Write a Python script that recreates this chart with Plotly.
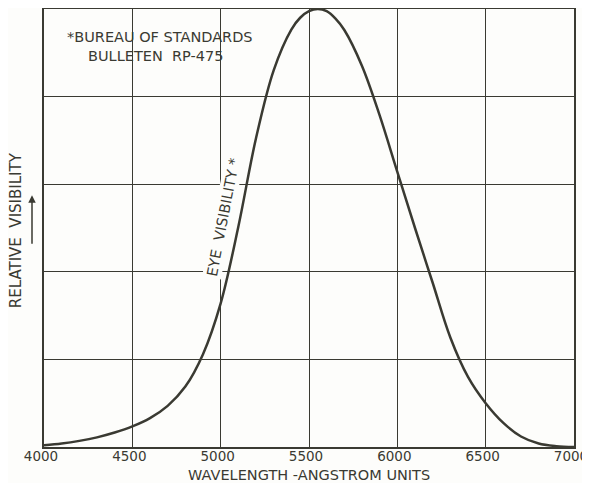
"""Relative eye visibility curve (Bureau of Standards RP-475)."""

import plotly.graph_objects as go

INK = "#3a3a32"
PAPER = "#fdfdfb"
FONT = "DejaVu Sans"

# wavelength in angstrom units, relative visibility
wavelength = [4000, 4100, 4200, 4300, 4400, 4500, 4600, 4700, 4800, 4900,
              5000, 5100, 5200, 5300, 5400, 5450, 5500, 5550, 5600, 5650,
              5700, 5800, 5900, 6000, 6100, 6200, 6300, 6400, 6500, 6600,
              6700, 6800, 6900, 7000]
visibility = [0.004, 0.008, 0.014, 0.022, 0.033, 0.047, 0.066, 0.094, 0.138, 0.212,
              0.328, 0.503, 0.705, 0.860, 0.953, 0.980, 0.995, 1.000, 0.995, 0.978,
              0.952, 0.870, 0.757, 0.628, 0.500, 0.375, 0.250, 0.160, 0.100, 0.055,
              0.024, 0.008, 0.002, 0.000]

x_ticks = [4000, 4500, 5000, 5500, 6000, 6500, 7000]
y_grid = [0, 0.2, 0.4, 0.6, 0.8, 1.0]

fig = go.Figure()
fig.add_trace(
    go.Scatter(
        x=wavelength,
        y=visibility,
        mode="lines",
        line=dict(color=INK, width=2.5, shape="spline", smoothing=1.0),
        showlegend=False,
        hoverinfo="skip",
        cliponaxis=False,
    )
)

axis_common = dict(
    showgrid=True,
    gridcolor=INK,
    gridwidth=1.3,
    zeroline=False,
    showline=True,
    linecolor=INK,
    linewidth=1.6,
    mirror=True,
    ticks="",
    automargin=False,
)

# the page body adds a small offset, margins are set so the frame lands where the scan has it
fig.update_layout(
    width=590,
    height=483,
    margin=dict(l=36, r=24, t=1, b=44),
    paper_bgcolor=PAPER,
    plot_bgcolor=PAPER,
    font=dict(family=FONT, color=INK, size=12),
    xaxis=dict(
        range=[4000, 7000],
        tickvals=x_ticks,
        ticktext=[str(v) for v in x_ticks],
        tickfont=dict(size=13.5, color=INK),
        ticklabelstandoff=-4,
        ticklabelshift=-3,
        **axis_common,
    ),
    yaxis=dict(
        range=[0, 1.0],
        tickvals=y_grid,
        showticklabels=False,
        **axis_common,
    ),
)

# axis titles as annotations so the plot area stays fixed
fig.add_annotation(
    x=0.5, y=0, xref="paper", yref="paper", yshift=-28, yanchor="middle",
    xanchor="center", text="WAVELENGTH -ANGSTROM UNITS", showarrow=False,
    font=dict(size=14.5, color=INK),
)
fig.add_annotation(
    x=0, y=0.495, xref="paper", yref="paper", xshift=-28,
    xanchor="center", yanchor="middle",
    text="RELATIVE  VISIBILITY", textangle=-90, showarrow=False,
    font=dict(size=15, color=INK),
)
fig.add_annotation(
    x=0, y=0.575, xref="paper", yref="paper", xshift=-12,
    ax=0, ay=50, axref="pixel", ayref="pixel",
    text="", showarrow=True, arrowhead=2, arrowsize=1, arrowwidth=1.5,
    arrowcolor=INK,
)
fig.add_annotation(
    x=4120, y=0.935, xref="x", yref="y", xanchor="left",
    text="*BUREAU OF STANDARDS", showarrow=False,
    font=dict(size=14.5, color=INK),
)
fig.add_annotation(
    x=4235, y=0.893, xref="x", yref="y", xanchor="left",
    text="BULLETEN  RP-475", showarrow=False,
    font=dict(size=14.5, color=INK),
)
fig.add_annotation(
    x=5015, y=0.525, xref="x", yref="y",
    text="EYE  VISIBILITY *", textangle=-79, showarrow=False,
    font=dict(size=14.5, color=INK), bgcolor=PAPER,
)

fig.write_html("out.html")
